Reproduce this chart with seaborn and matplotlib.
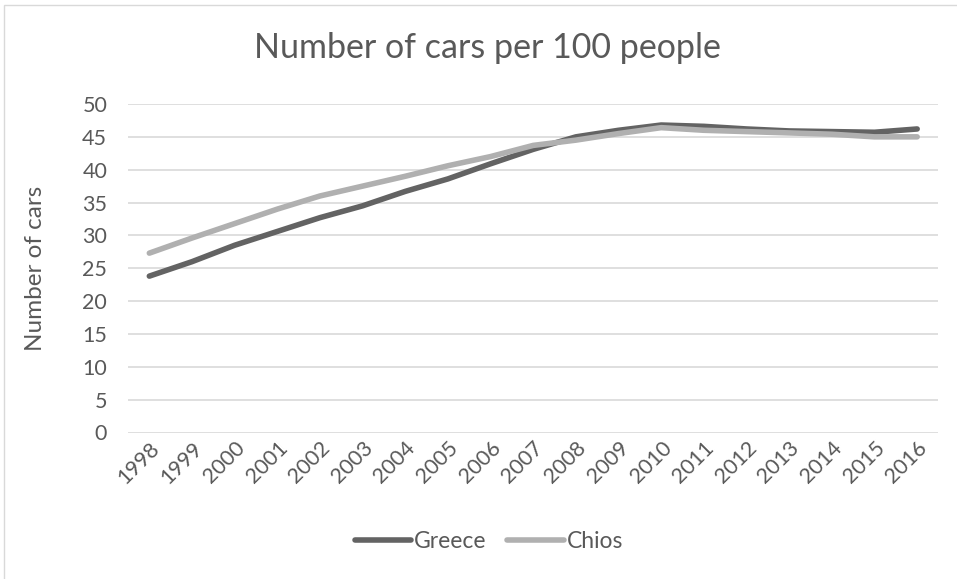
import matplotlib
matplotlib.use("Agg")
import matplotlib.pyplot as plt
import seaborn as sns
import pandas as pd
from matplotlib.patches import Rectangle
from matplotlib.lines import Line2D

years = ["1998", "1999", "2000", "2001", "2002", "2003", "2004", "2005", "2006", "2007",
         "2008", "2009", "2010", "2011", "2012", "2013", "2014", "2015", "2016"]
greece = [23.8, 26.0, 28.5, 30.6, 32.7, 34.5, 36.7, 38.6, 40.9, 43.1,
          45.0, 46.0, 46.8, 46.6, 46.2, 45.9, 45.8, 45.7, 46.2]
chios = [27.3, 29.6, 31.8, 34.0, 36.0, 37.5, 39.0, 40.6, 42.0, 43.7,
         44.5, 45.5, 46.4, 46.0, 45.8, 45.6, 45.4, 45.0, 45.0]
series_names = ["Greece", "Chios"]
yticks = [0, 5, 10, 15, 20, 25, 30, 35, 40, 45, 50]

df = pd.DataFrame({
    "Year": years * 2,
    "Value": greece + chios,
    "Series": [series_names[0]] * len(years) + [series_names[1]] * len(years),
})

sns.set_theme(style="white")
plt.rcParams["font.family"] = ["Lato", "DejaVu Sans"]
txt = "#595959"
colors = {"Greece": "#636363", "Chios": "#B0B0B0"}

W, H = 957, 579
fig = plt.figure(figsize=(W / 100, H / 100), dpi=100)
ax = fig.add_axes([128 / W, 1 - 432.5 / H, (938.5 - 128) / W, (432.5 - 104) / H])

# chart border (Excel chart area)
fig.patches.append(Rectangle((4 / W, -0.05), 1.2, 1 - 5 / H + 0.05, transform=fig.transFigure,
                             fill=False, edgecolor="#D9D9D9", linewidth=1.0))

sns.lineplot(data=df, x="Year", y="Value", hue="Series", sort=False,
             palette=colors, linewidth=4.0, ax=ax, legend=False,
             solid_capstyle="round", solid_joinstyle="round")

ax.set_xlim(-0.5, len(years) - 0.5)
ax.set_ylim(0, 50)
ax.set_yticks(yticks)
ax.yaxis.grid(True, color="#D9D9D9", linewidth=1.2)
ax.set_axisbelow(True)
for s in ax.spines.values():
    s.set_visible(False)
ax.tick_params(axis="both", length=0, colors=txt, labelsize=15.5)
ax.tick_params(axis="y", pad=15)
ax.tick_params(axis="x", pad=4)
for lab in ax.get_xticklabels():
    lab.set_rotation(45)
    lab.set_ha("right")
    lab.set_rotation_mode("anchor")
ax.set_xlabel("")
ax.set_ylabel("Number of cars", fontsize=17.5, color=txt)
ax.yaxis.set_label_coords((46 - 128) / 810.5, 0.5)

fig.text(487.5 / W, 1 - 48 / H, "Number of cars per 100 people", ha="center", va="center",
         fontsize=24.5, color=txt)

handles = [Line2D([], [], color=colors[n], linewidth=4.0, solid_capstyle="round")
           for n in series_names]
fig.legend(handles, series_names, loc="center", bbox_to_anchor=(489 / W, 1 - 542 / H),
           ncol=2, frameon=False, fontsize=16.5, labelcolor=txt, handlelength=2.45,
           handletextpad=0.13, columnspacing=0.9)

fig.savefig("out.png", dpi=100, facecolor="white")
